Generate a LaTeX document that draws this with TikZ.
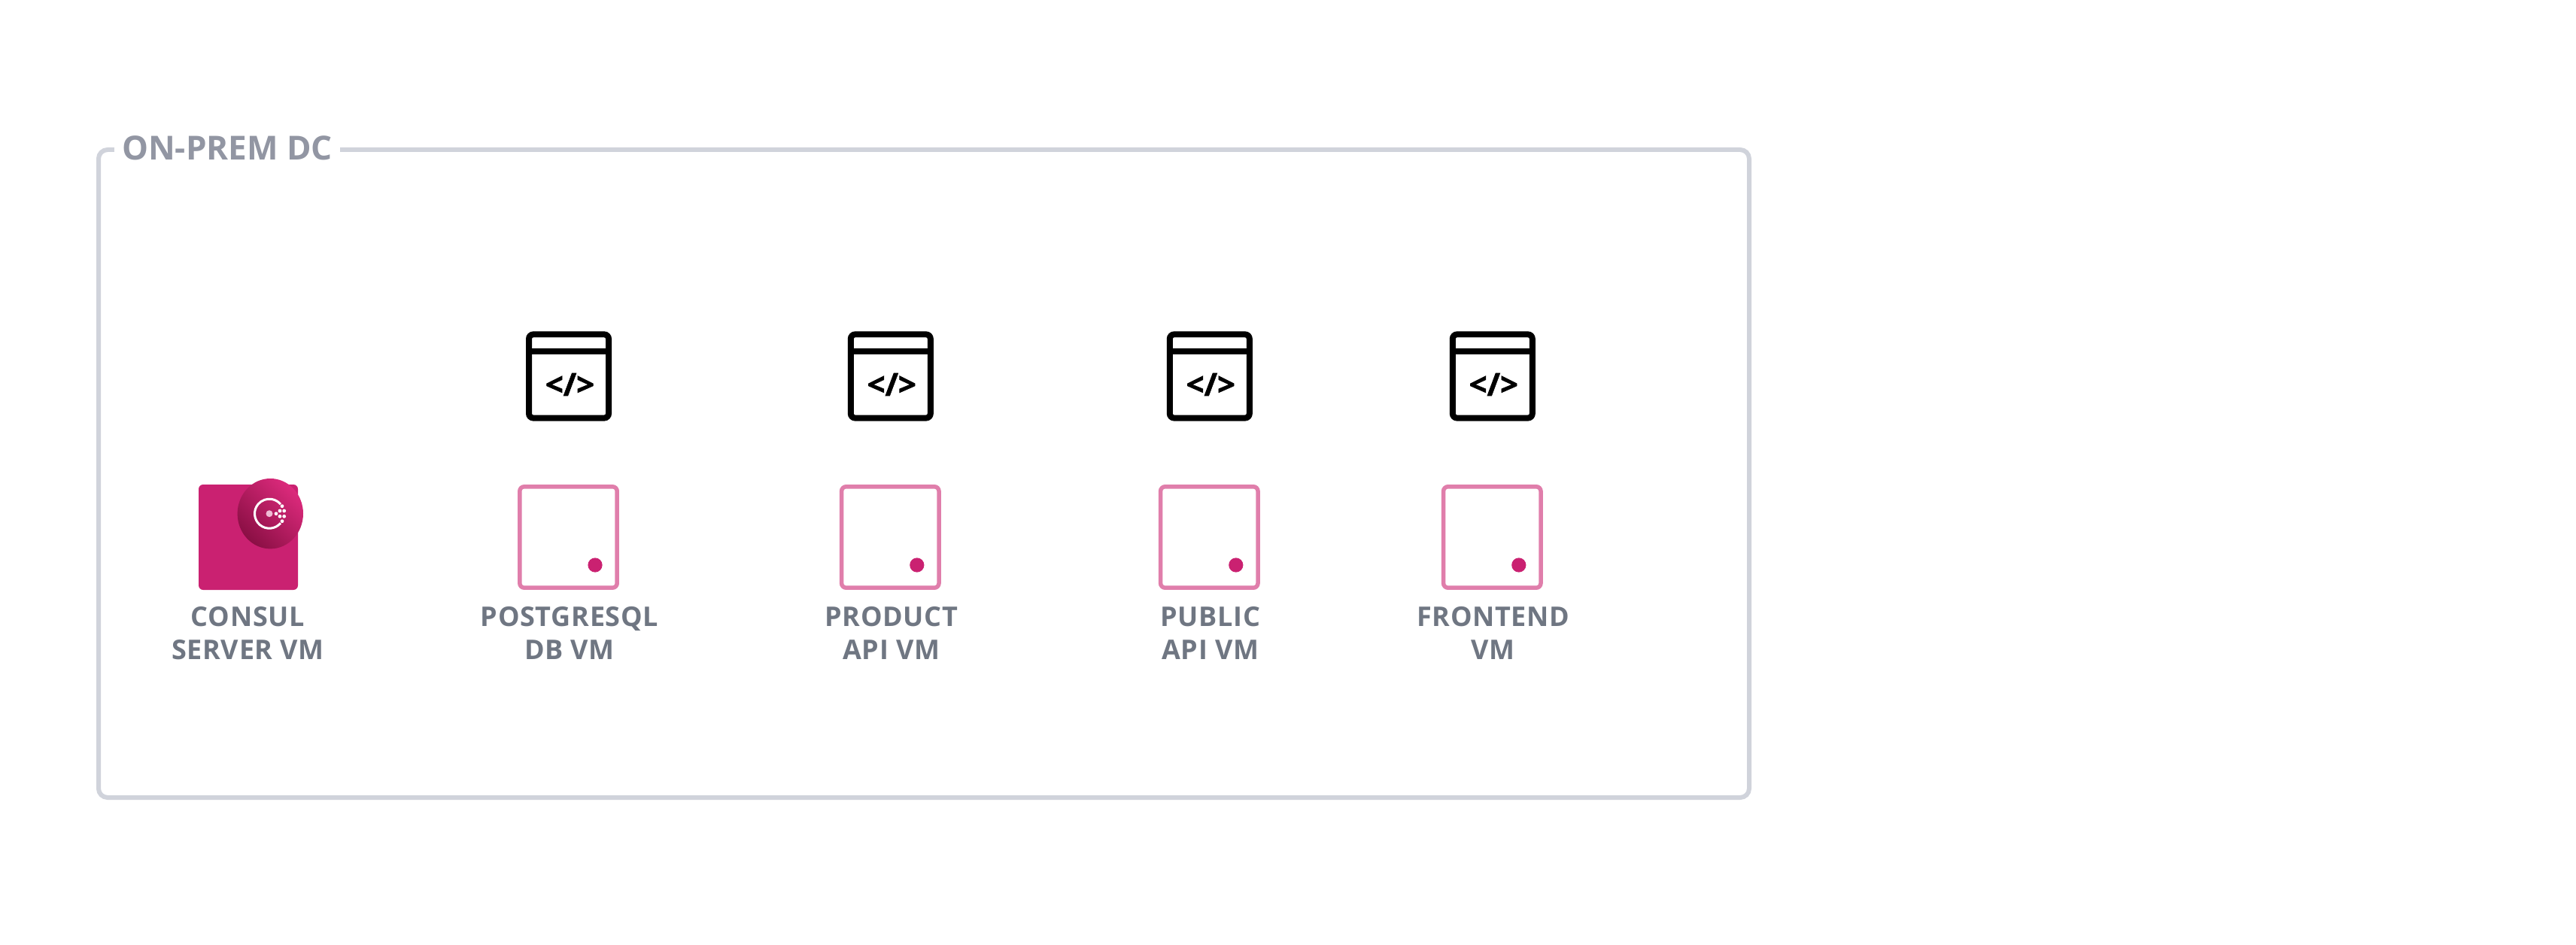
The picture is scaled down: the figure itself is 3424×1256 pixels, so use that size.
\documentclass[tikz,border=0pt]{standalone}
\usepackage{fontspec}
\usetikzlibrary{calc}
\setmainfont{Open Sans}
\definecolor{consulpink}{HTML}{CA2171}
\definecolor{consullight}{HTML}{DC2A7C}
\definecolor{consuldark}{HTML}{8A0F44}
\definecolor{vmpink}{HTML}{E07EAB}
\definecolor{framegray}{HTML}{D0D3DB}
\definecolor{titlegray}{HTML}{9296A3}
\definecolor{labelgray}{HTML}{6F7682}

\tikzset{
    vmbox/.style={draw=vmpink, line width=2.75pt, fill=white, rounded corners=3pt, minimum width=64.7pt, minimum height=67.2pt, inner sep=0pt},
    vmdot/.style={circle, fill=consulpink, minimum size=9.6pt, inner sep=0pt},
    vmlabel/.style={text=labelgray, font=\fontsize{18}{21.6}\selectfont\bfseries\addfontfeature{LetterSpace=2}, align=center, anchor=base, inner sep=0pt},
    appicon/.style={draw=black, line width=4pt, rounded corners=3pt, minimum width=53pt, minimum height=55.6pt, inner sep=0pt},
    codetext/.style={font=\fontsize{21}{21}\selectfont\bfseries\addfontfeature{FakeBold=1.5}, inner sep=0pt},
    logodot/.style={circle, fill=white, minimum size=2.4pt, inner sep=0pt}
}

\begin{document}
\begin{tikzpicture}[x=0.5pt, y=-0.5pt]
    \useasboundingbox (0,0) rectangle (3424,1256);

    % on-prem frame
    \node[draw=framegray, line width=3pt, rounded corners=6pt, minimum width=1097pt, minimum height=430.5pt, inner sep=0pt] (dcframe) at (1228,629.5) {};
    \node[fill=white, text=titlegray, font=\fontsize{22}{24}\selectfont\bfseries, minimum width=150pt, inner sep=0pt, minimum height=20pt] (dctitle) at (302,197) {ON-PREM DC};

    % consul server
    \node[fill=consulpink, rounded corners=3pt, minimum width=66pt, minimum height=70pt, inner sep=0pt] (consulvm) at (330,714) {};
    \shade[top color=consullight, bottom color=consuldark, shading angle=-45] (359.3,682.7) ellipse (43.7 and 46.7);
    \coordinate (logomid) at (358,682.7);
    \draw[white, line width=1.5pt] ($(logomid)+(40:19.5)$) arc (40:320:19.5);
    \fill[consulpink!30] (logomid) circle (4.5);
    \foreach \dotx/\doty/\dotname in {367/682.7/a, 372/679/b, 377.7/679/c, 375/672.7/d, 372/686.3/e, 377.7/686.3/f, 375/692.7/g}
        \node[logodot] (logo\dotname) at (\dotx,\doty) {};
    \node[vmlabel] (consullabel) at (329.5,876) {CONSUL\\SERVER VM};

    % application vms
    \foreach \vmname/\vmx/\vmtext in {postgres/755.5/POSTGRESQL\\DB VM, product/1183.3/PRODUCT\\API VM, public/1607.3/PUBLIC\\API VM, frontend/1983.3/FRONTEND\\VM} {
        \node[appicon] (\vmname icon) at (\vmx+0.5,500) {};
        \draw[black, line width=4pt] (\vmname icon.west |- 0,467.5) -- (\vmname icon.east |- 0,467.5);
        \node[codetext] (\vmname code) at (\vmx+2,511) {</>};
        \node[vmbox] (\vmname vm) at (\vmx,714) {};
        \node[vmdot] (\vmname dot) at (\vmx+35.5,751) {};
        \node[vmlabel] (\vmname label) at (\vmx+1.5,876) {\vmtext};
    }
\end{tikzpicture}
\end{document}
